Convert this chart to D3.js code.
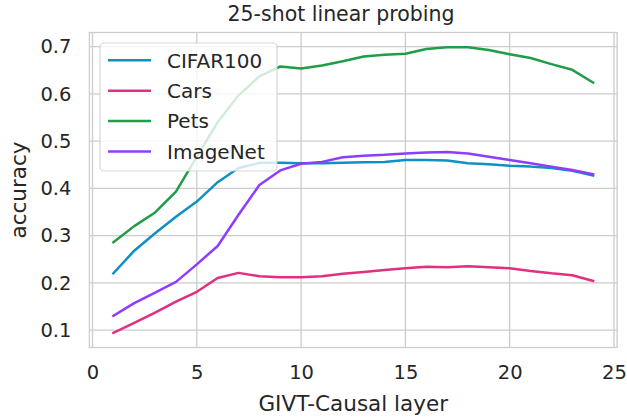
<!DOCTYPE html>
<html>
<head>
<meta charset="utf-8">
<script src="https://cdn.jsdelivr.net/npm/d3@7"></script>
<style>
  html, body { margin: 0; padding: 0; background: #fff; }
  svg { display: block; font-family: "DejaVu Sans", sans-serif; }
</style>
</head>
<body>
<div id="chart"></div>
<script>
// data
const layers   = [1,2,3,4,5,6,7,8,9,10,11,12,13,14,15,16,17,18,19,20,21,22,23,24];
const cifar100 = [0.220,0.268,0.305,0.340,0.372,0.413,0.443,0.454,0.454,0.453,0.453,0.454,0.455,0.456,0.460,0.460,0.459,0.453,0.451,0.448,0.446,0.443,0.437,0.427];
const cars     = [0.094,0.115,0.137,0.160,0.181,0.210,0.221,0.214,0.212,0.212,0.214,0.219,0.223,0.227,0.231,0.234,0.233,0.235,0.233,0.231,0.225,0.220,0.216,0.204];
const pets     = [0.286,0.320,0.349,0.393,0.467,0.540,0.597,0.637,0.658,0.654,0.660,0.669,0.679,0.683,0.685,0.695,0.699,0.699,0.693,0.684,0.676,0.663,0.651,0.624];
const imagenet = [0.130,0.157,0.179,0.202,0.239,0.278,0.344,0.407,0.438,0.452,0.456,0.466,0.469,0.471,0.474,0.476,0.477,0.474,0.467,0.460,0.453,0.446,0.439,0.430];
const seriesNames  = ['CIFAR100', 'Cars', 'Pets', 'ImageNet'];
const seriesColors = ['#0f8fc4', '#e0307f', '#1f9d48', '#8f3cff'];
const xTicks = [0, 5, 10, 15, 20, 25];
const yTicks = [0.1, 0.2, 0.3, 0.4, 0.5, 0.6, 0.7];

const W = 627, H = 417;
const m = { left: 89.4, right: W - 617.1, top: 32.5, bottom: H - 347.5 };
const ink = '#262626', gridCol = '#cccccc';

const svg = d3.select('#chart').append('svg')
  .attr('width', W).attr('height', H);

const x = d3.scaleLinear().domain([-0.15, 25.15]).range([m.left, W - m.right]);
const y = d3.scaleLinear().domain([0.063, 0.730]).range([H - m.bottom, m.top]);

// grid
const grid = svg.append('g').attr('stroke', gridCol).attr('stroke-width', 1.3);
grid.selectAll('.gx').data(xTicks).join('line')
  .attr('x1', d => x(d)).attr('x2', d => x(d))
  .attr('y1', m.top).attr('y2', H - m.bottom);
grid.selectAll('.gy').data(yTicks).join('line')
  .attr('y1', d => y(d)).attr('y2', d => y(d))
  .attr('x1', m.left).attr('x2', W - m.right);

// spines
svg.append('rect')
  .attr('x', m.left).attr('y', m.top)
  .attr('width', W - m.left - m.right).attr('height', H - m.top - m.bottom)
  .attr('fill', 'none').attr('stroke', gridCol).attr('stroke-width', 1.3);

// axes (labels only)
const xAxis = svg.append('g')
  .attr('transform', `translate(0,${H - m.bottom})`)
  .call(d3.axisBottom(x).tickValues(xTicks).tickSize(0).tickPadding(18));
const yAxis = svg.append('g')
  .attr('transform', `translate(${m.left},0)`)
  .call(d3.axisLeft(y).tickValues(yTicks).tickFormat(d3.format('.1f')).tickSize(0).tickPadding(18));
[xAxis, yAxis].forEach(a => {
  a.select('.domain').remove();
  a.selectAll('text').attr('fill', ink).style('font-size', '19.5px')
    .style('font-family', '"DejaVu Sans", sans-serif');
});

// lines
const seriesData = [cifar100, cars, pets, imagenet];
const line = d3.line().x((d, i) => x(layers[i])).y(d => y(d));
seriesData.forEach((vals, k) => {
  svg.append('path')
    .datum(vals)
    .attr('fill', 'none')
    .attr('stroke', seriesColors[k])
    .attr('stroke-width', 2.5)
    .attr('stroke-linejoin', 'round')
    .attr('stroke-linecap', 'square')
    .attr('d', line);
});

// title and axis labels
svg.append('text')
  .attr('x', 341).attr('y', 21)
  .attr('text-anchor', 'middle').attr('fill', ink)
  .style('font-size', '20.5px').text('25-shot linear probing');
svg.append('text')
  .attr('x', (m.left + W - m.right) / 2).attr('y', 411)
  .attr('text-anchor', 'middle').attr('fill', ink)
  .style('font-size', '21.5px').text('GIVT-Causal layer');
svg.append('text')
  .attr('transform', `translate(25.5,${(m.top + H - m.bottom) / 2}) rotate(-90)`)
  .attr('text-anchor', 'middle').attr('fill', ink)
  .style('font-size', '21.5px').text('accuracy');

// legend
const leg = svg.append('g');
leg.append('rect')
  .attr('x', 100).attr('y', 43).attr('width', 177).attr('height', 128)
  .attr('rx', 4)
  .attr('fill', 'rgba(255,255,255,0.8)')
  .attr('stroke', 'rgba(204,204,204,0.8)').attr('stroke-width', 1.2);
seriesNames.forEach((name, k) => {
  const ly = 60.3 + k * 30.4;
  leg.append('line')
    .attr('x1', 108).attr('x2', 151).attr('y1', ly).attr('y2', ly)
    .attr('stroke', seriesColors[k]).attr('stroke-width', 2.5);
  leg.append('text')
    .attr('x', 167).attr('y', ly + 7.2)
    .attr('fill', ink).style('font-size', '20px').text(name);
});
</script>
</body>
</html>
